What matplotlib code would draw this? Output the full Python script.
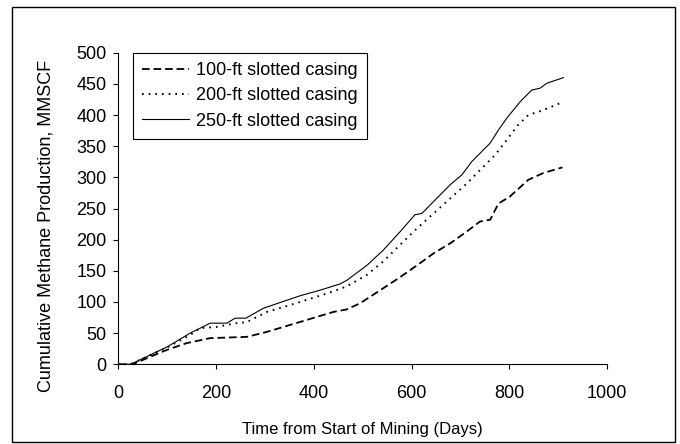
import matplotlib
matplotlib.use("Agg")
import matplotlib.pyplot as plt
from matplotlib.patches import Rectangle

plt.rcParams['font.family'] = ['Liberation Sans', 'DejaVu Sans']
plt.rcParams['lines.scale_dashes'] = False

# values
days_100 = [0, 30, 65, 99, 140, 188, 263, 304, 372, 440, 467, 495, 542, 577, 617,
            645, 679, 713, 740, 761, 778, 801, 839, 870, 909]
prod_100 = [0, 0, 12, 23, 34, 42, 44, 52, 68, 84, 88, 98, 122, 140, 162,
            178, 194, 213, 229, 232, 258, 269, 296, 307, 316]

days_200 = [0, 25, 52, 100, 147, 167, 201, 249, 261, 304, 372, 440, 467, 508, 542,
            577, 611, 645, 679, 713, 737, 771, 795, 818, 839, 870, 907]
prod_200 = [0, 0, 10, 27, 47, 58, 60, 67, 67, 84, 100, 117, 125, 143, 165,
            192, 218, 242, 266, 290, 309, 336, 360, 384, 400, 408, 420]

days_250 = [0, 25, 52, 100, 147, 188, 222, 239, 261, 297, 372, 413, 454, 468, 509,
            542, 577, 607, 621, 645, 679, 703, 723, 761, 778, 795, 822, 846, 863, 877, 911]
prod_250 = [0, 0, 10, 28, 50, 66, 66, 74, 74, 90, 110, 119, 129, 135, 159,
            183, 213, 240, 242, 261, 288, 304, 325, 355, 376, 395, 421, 440, 443, 451, 460]

labels = ["100-ft slotted casing", "200-ft slotted casing", "250-ft slotted casing"]

fig = plt.figure(figsize=(6.8, 4.44), dpi=100)
ax = fig.add_axes([0.174, 0.1795, 0.7186, 0.7018])

ax.plot(days_100, prod_100, color="black", lw=1.3, dashes=(5.5, 2.8), label=labels[0])
ax.plot(days_200, prod_200, color="black", lw=1.4, dashes=(1.2, 3.6), label=labels[1])
ax.plot(days_250, prod_250, color="black", lw=0.8, label=labels[2])

ax.set_xlim(0, 1000)
ax.set_ylim(0, 500)
ax.set_xticks(range(0, 1001, 200))
ax.set_yticks(range(0, 501, 50))
ax.spines[['top', 'right']].set_visible(False)
for s in ['left', 'bottom']:
    ax.spines[s].set_linewidth(0.8)
ax.tick_params(axis='both', direction='out', length=3.6, width=0.8, labelsize=13)
ax.tick_params(axis='x', pad=11)
ax.tick_params(axis='y', pad=5)

ax.set_xlabel("Time from Start of Mining (Days)", fontsize=12)
ax.set_ylabel("Cumulative Methane Production, MMSCF", fontsize=13)
ax.xaxis.set_label_coords(0.5, -0.185)
ax.yaxis.set_label_coords(-0.131, 0.445)

leg = ax.legend(loc='upper left', bbox_to_anchor=(0.0295, 0.998), borderaxespad=0,
                fontsize=13, frameon=True, fancybox=False, edgecolor='black',
                framealpha=1, handlelength=2.6, handletextpad=0.4, labelspacing=0.45,
                borderpad=0.5)
leg.get_frame().set_linewidth(0.8)

# outer chart border
fig.patches.append(Rectangle((11.7 / 680, 2 / 444), 663 / 680, 435 / 444,
                             transform=fig.transFigure, fill=False,
                             edgecolor='black', lw=1.0))

fig.savefig("out.png", dpi=100)
